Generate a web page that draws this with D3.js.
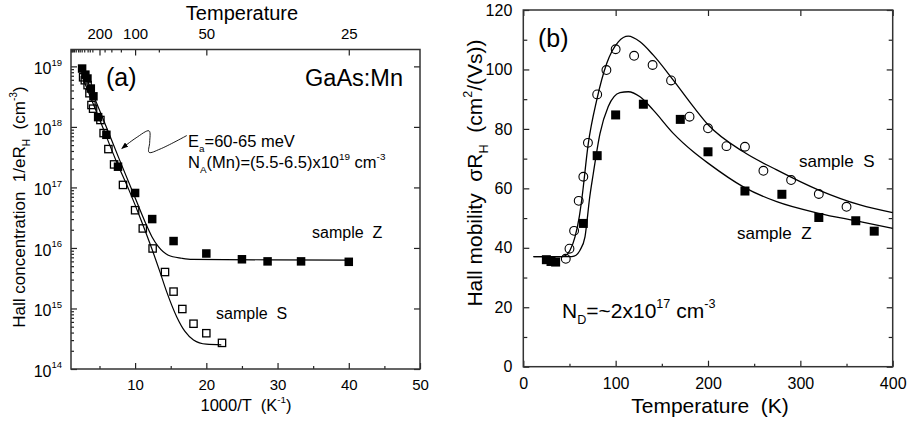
<!DOCTYPE html>
<html>
<meta charset="utf-8">
<script src="https://d3js.org/d3.v7.min.js"></script>
<style>
  body { margin: 0; background: #fff; }
  text { white-space: pre; }
</style>
<body>
<div id="chart"></div>
<script>
// ---- (a) Hall concentration vs 1000/T ----
const zInvT = [2.56, 3.02, 3.31, 3.78, 4.15, 4.81, 5.97, 7.6, 10.0, 12.4, 15.4, 20.0, 25.0, 28.6, 33.3, 40.0];
const zConc = [9.2e18, 7.3e18, 6.3e18, 4.3e18, 3.2e18, 1.45e18, 7.4e17, 2.2e17, 8.1e16, 3.0e16, 1.3e16, 8.1e15, 6.5e15, 6.0e15, 6.0e15, 5.9e15];
const sInvT = [2.7, 2.94, 3.33, 3.59, 3.87, 4.1, 5.13, 5.58, 6.25, 7.05, 8.3, 10.0, 11.08, 12.46, 14.2, 15.4, 16.63, 18.2, 20.0, 22.2];
const sConc = [6.6e18, 5.9e18, 4.9e18, 3.6e18, 2.3e18, 2.0e18, 1.3e18, 7.9e17, 4.3e17, 2.4e17, 1.1e17, 4.2e16, 2.1e16, 9.8e15, 4.0e15, 1.9e15, 9.8e14, 5.6e14, 3.9e14, 2.7e14];

const zFitInvT = [2.5, 5.65, 7.8, 10.2, 11.4, 12.34, 13.27, 14.67, 16.55, 18, 40];
const zFitConc = [1.0e19, 1.23e18, 2.88e17, 5.89e16, 2.69e16, 1.55e16, 1.05e16, 7.59e15, 6.76e15, 6.46e15, 6.31e15];
const sFitInvT = [2.5, 5.2, 7.3, 9.06, 10.94, 12.34, 13.5, 14.45, 15.85, 17, 18.2, 20, 22.1];
const sFitConc = [7.08e18, 1.17e18, 2.82e17, 9.55e16, 2.69e16, 9.77e15, 3.98e15, 1.86e15, 7.24e14, 4.17e14, 3.02e14, 2.57e14, 2.51e14];

const invTTicks = [10, 20, 30, 40, 50];
const invTMinor = [5, 15, 25, 35, 45];
const tempTicks = [200, 100, 50, 25];
const tempMinor = [1000, 900, 800, 700, 600, 500, 450, 400, 350, 300, 275, 250, 175, 150, 125, 75];
const concTicks = [1e14, 1e15, 1e16, 1e17, 1e18, 1e19];

// arrow from the E_a label to the fit curves
const arrowInvT = [8.13, 10.14, 11.96, 12.05, 11.96, 13.5, 17.26];
const arrowConc = [4.4e17, 6.6e17, 8.6e17, 5.6e17, 3.8e17, 4.3e17, 7.2e17];

// ---- (b) Hall mobility vs temperature ----
const sTemp = [46, 50, 55, 60, 65, 70, 80, 90, 100, 120, 140, 160, 180, 200, 220, 240, 260, 290, 320, 350];
const sMob = [36.3, 39.7, 45.7, 55.8, 63.9, 75.3, 91.6, 99.8, 106.8, 104.6, 101.5, 96.3, 84.1, 80.2, 74.2, 74.0, 65.9, 62.8, 58.1, 53.8];
const zTemp = [25, 30, 35, 65, 80, 100, 130, 170, 200, 240, 280, 320, 360, 380];
const zMob = [36.0, 35.4, 35.2, 48.2, 71.0, 84.7, 88.3, 83.2, 72.3, 59.1, 58.0, 50.2, 49.1, 45.6];

const sFitTemp = [11, 40, 45, 50.6, 56, 60.6, 63.2, 70.4, 79.5, 90.3, 102.9, 113.7, 126.4, 140.8, 162.4, 184.1, 200.4, 238.3, 274.4, 320, 364.6, 400];
const sFitMob = [37, 37, 37.3, 39.2, 43.7, 50.4, 56, 75.1, 89.7, 102, 109.3, 111.2, 109.3, 104.8, 96.4, 87.5, 81.3, 72.3, 66.2, 59.4, 54.4, 51.8];
const zFitTemp = [11, 50, 55, 61.4, 66.8, 68.7, 71.5, 75.8, 83.1, 92, 104.7, 113.7, 126.4, 140.8, 162.4, 184.1, 200.4, 238.3, 274.4, 320, 364.6, 400];
const zFitMob = [37, 37, 37.2, 39.2, 43.7, 48.2, 56, 65, 78.5, 87.5, 92.2, 92.5, 90.8, 86.3, 78.5, 72.3, 68.4, 60.5, 55.5, 51.6, 48.8, 46.5];

const tempTicksB = [0, 100, 200, 300, 400];
const tempMinorB = [50, 150, 250, 350];
const mobTicks = [0, 20, 40, 60, 80, 100, 120];
const mobMinor = [10, 30, 50, 70, 90, 110];

const FONT = '"Liberation Sans", Arial, Helvetica, sans-serif';

let svg = d3.select("#chart")
  .append("svg")
    .attr("width", 910)
    .attr("height", 426)
    .style("font-family", FONT);

svg.append("defs").append("marker")
    .attr("id", "head")
    .attr("viewBox", "0 0 10 8")
    .attr("refX", 9).attr("refY", 4)
    .attr("markerWidth", 7).attr("markerHeight", 5.5)
    .attr("markerUnits", "userSpaceOnUse")
    .attr("orient", "auto-start-reverse")
  .append("path")
    .attr("d", "M0,0 L10,4 L0,8 Z")
    .attr("fill", "#000");

let xa = d3.scaleLinear().domain([1, 50]).range([71, 420]);
let ya = d3.scaleLog().domain([1e14, 1.9e19]).range([369, 49.5]);
let xb = d3.scaleLinear().domain([0, 400]).range([523.3, 892.7]);
let yb = d3.scaleLinear().domain([0, 120]).range([366.7, 10]);

function axis(gen, tx, ty, vals, len, fmt, pad, fs) {
  let g = svg.append("g")
    .attr("transform", "translate(" + tx + "," + ty + ")")
    .call(gen.tickValues(vals).tickSize(-len).tickPadding(pad || 3).tickFormat(fmt || (() => "")));
  g.select(".domain").remove();
  g.selectAll(".tick line").attr("stroke", "#222").attr("stroke-width", 1.2);
  g.selectAll(".tick text").attr("font-size", fs || 15).attr("fill", "#000").attr("font-family", FONT);
  return g;
}

// text with sub / superscripts: parts are strings or [string, "sub"|"sup"]
function rich(parent, x, y, parts, fs, anchor, transform) {
  let t = parent.append("text")
    .attr("x", x).attr("y", y)
    .attr("font-size", fs)
    .attr("text-anchor", anchor || "start")
    .attr("fill", "#000");
  if (transform) t.attr("transform", transform);
  let off = 0;
  parts.forEach(p => {
    let s = typeof p === "string" ? p : p[0];
    let k = typeof p === "string" ? "" : p[1];
    let target = k === "sup" ? -0.48 * fs : k === "sub" ? 0.28 * fs : 0;
    t.append("tspan")
      .attr("dy", target - off)
      .attr("font-size", k ? fs * 0.6 : fs)
      .text(s);
    off = target;
  });
  return t;
}

// ================= panel (a) =================
axis(d3.axisBottom(xa), 0, 369, invTTicks, 6, d3.format("d"), 10, 15);
axis(d3.axisBottom(xa), 0, 369, invTMinor, 3);
axis(d3.axisTop(xa), 0, 49.5, tempTicks.map(t => 1000 / t), 6, d => Math.round(1000 / d), 11, 15);
axis(d3.axisTop(xa), 0, 49.5, tempMinor.map(t => 1000 / t), 3);

let concMinor = [];
concTicks.slice(0, -1).forEach(d => { for (let m = 2; m < 10; m++) concMinor.push(d * m); });

let yl = axis(d3.axisLeft(ya), 71, 0, concTicks, 6, () => "10", 9, 16);
yl.selectAll(".tick text")
  .attr("dy", "0.45em")
  .each(function(d) {
    d3.select(this).append("tspan")
      .attr("dy", -8.5)
      .attr("font-size", 9.5)
      .text(Math.round(Math.log10(d)));
  });
axis(d3.axisLeft(ya), 71, 0, concMinor, 3);
axis(d3.axisRight(ya), 420, 0, concTicks, 6);

svg.append("rect")
  .attr("x", xa.range()[0]).attr("y", ya.range()[1])
  .attr("width", xa.range()[1] - xa.range()[0])
  .attr("height", ya.range()[0] - ya.range()[1])
  .attr("fill", "none").attr("stroke", "#333").attr("stroke-width", 1.5);

let lineA = d3.line().x(d => xa(d[0])).y(d => ya(d[1])).curve(d3.curveMonotoneX);
svg.append("path").datum(d3.zip(zFitInvT, zFitConc))
  .attr("d", lineA).attr("fill", "none").attr("stroke", "#000").attr("stroke-width", 1.2);
svg.append("path").datum(d3.zip(sFitInvT, sFitConc))
  .attr("d", lineA).attr("fill", "none").attr("stroke", "#000").attr("stroke-width", 1.2);

let sq = 8.5;
svg.append("g").selectAll("rect")
  .data(d3.zip(sInvT, sConc))
  .enter().append("rect")
    .attr("x", d => xa(d[0]) - sq / 2 + 0.6)
    .attr("y", d => ya(d[1]) - sq / 2 + 0.6)
    .attr("width", sq - 1.2).attr("height", sq - 1.2)
    .attr("fill", "none").attr("stroke", "#000").attr("stroke-width", 1.3);
svg.append("g").selectAll("rect")
  .data(d3.zip(zInvT, zConc))
  .enter().append("rect")
    .attr("x", d => xa(d[0]) - sq / 2)
    .attr("y", d => ya(d[1]) - sq / 2)
    .attr("width", sq).attr("height", sq)
    .attr("fill", "#000");

svg.append("path").datum(d3.zip(arrowInvT, arrowConc))
  .attr("d", d3.line().x(d => xa(d[0])).y(d => ya(d[1])).curve(d3.curveCatmullRom.alpha(0.5)))
  .attr("fill", "none").attr("stroke", "#000").attr("stroke-width", 0.9)
  .attr("marker-start", "url(#head)");

rich(svg, 242, 20, ["Temperature"], 20, "middle");
rich(svg, 246, 411, ["1000/T  (K", ["-1", "sup"], ")"], 16.5, "middle");
rich(svg, 0, 0, ["Hall concentration  1/eR", ["H", "sub"], "  (cm", ["-3", "sup"], ")"], 17, "middle",
  "translate(25,207) rotate(-90)");
rich(svg, 106, 86, ["(a)"], 25);
rich(svg, 403, 86, ["GaAs:Mn"], 23.5, "end");
rich(svg, 188, 147, ["E", ["a", "sub"], "=60-65 meV"], 16.5);
rich(svg, 188, 168, ["N", ["A", "sub"], "(Mn)=(5.5-6.5)x10", ["19", "sup"], " cm", ["-3", "sup"]], 16.5);
rich(svg, 312, 238, ["sample  Z"], 16);
rich(svg, 216, 319, ["sample  S"], 16);

// ================= panel (b) =================
axis(d3.axisBottom(xb), 0, 366.7, tempTicksB, 6, d3.format("d"), 11, 16);
axis(d3.axisBottom(xb), 0, 366.7, tempMinorB, 3);
axis(d3.axisTop(xb), 0, 10, tempTicksB, 6);
axis(d3.axisLeft(yb), 523.3, 0, mobTicks, 6, d3.format("d"), 11, 16);
axis(d3.axisLeft(yb), 523.3, 0, mobMinor, 4);
axis(d3.axisRight(yb), 892.7, 0, mobTicks, 6);
axis(d3.axisRight(yb), 892.7, 0, mobMinor, 4);

svg.append("rect")
  .attr("x", xb.range()[0]).attr("y", yb.range()[1])
  .attr("width", xb.range()[1] - xb.range()[0])
  .attr("height", yb.range()[0] - yb.range()[1])
  .attr("fill", "none").attr("stroke", "#333").attr("stroke-width", 1.5);

let lineB = d3.line().x(d => xb(d[0])).y(d => yb(d[1])).curve(d3.curveMonotoneX);
svg.append("path").datum(d3.zip(sFitTemp, sFitMob))
  .attr("d", lineB).attr("fill", "none").attr("stroke", "#000").attr("stroke-width", 1.3);
svg.append("path").datum(d3.zip(zFitTemp, zFitMob))
  .attr("d", lineB).attr("fill", "none").attr("stroke", "#000").attr("stroke-width", 1.3);

svg.append("g").selectAll("circle")
  .data(d3.zip(sTemp, sMob))
  .enter().append("circle")
    .attr("cx", d => xb(d[0]))
    .attr("cy", d => yb(d[1]))
    .attr("r", 4.4)
    .attr("fill", "none").attr("stroke", "#000").attr("stroke-width", 1.1);
let sqb = 9;
svg.append("g").selectAll("rect")
  .data(d3.zip(zTemp, zMob))
  .enter().append("rect")
    .attr("x", d => xb(d[0]) - sqb / 2)
    .attr("y", d => yb(d[1]) - sqb / 2)
    .attr("width", sqb).attr("height", sqb)
    .attr("fill", "#000");

rich(svg, 710, 413, ["Temperature  (K)"], 21, "middle");
rich(svg, 0, 0, ["Hall mobility  σR", ["H", "sub"], "  (cm", ["2", "sup"], "/(Vs))"], 21, "middle",
  "translate(482,173) rotate(-90)");
rich(svg, 538, 47, ["(b)"], 25);
rich(svg, 799, 167, ["sample  S"], 17);
rich(svg, 737, 239, ["sample  Z"], 17);
rich(svg, 562, 318, ["N", ["D", "sub"], "=~2x10", ["17", "sup"], " cm", ["-3", "sup"]], 21);
</script>
</body>
</html>
